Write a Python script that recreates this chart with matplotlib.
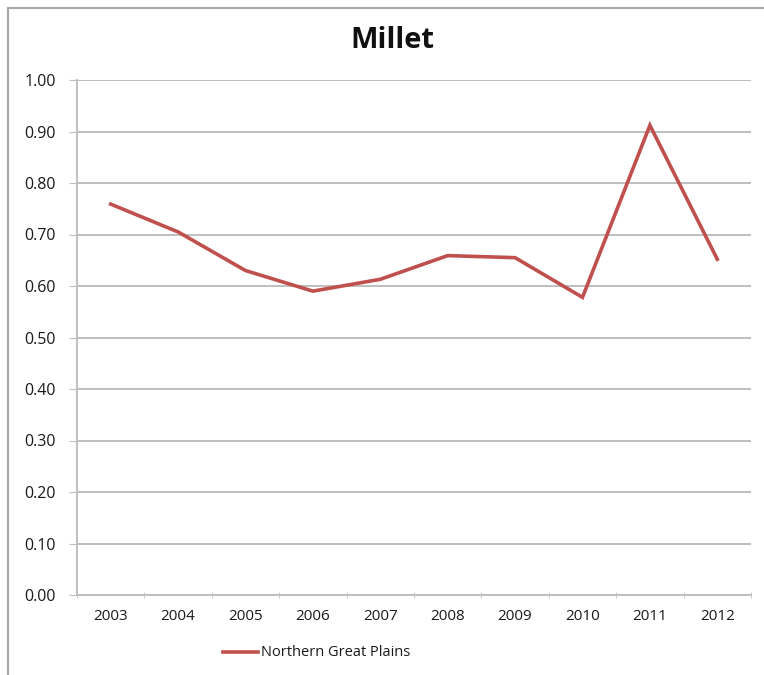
import matplotlib
matplotlib.use("Agg")
import matplotlib.pyplot as plt
from matplotlib.patches import Rectangle
from matplotlib.lines import Line2D

years = ["2003", "2004", "2005", "2006", "2007", "2008", "2009", "2010", "2011", "2012"]
northern_great_plains = [0.759, 0.705, 0.630, 0.590, 0.613, 0.659, 0.655, 0.578, 0.912, 0.652]
y_ticks = [0.0, 0.1, 0.2, 0.3, 0.4, 0.5, 0.6, 0.7, 0.8, 0.9, 1.0]

line_color = "#C0504D"
grid_color = "#BFBFBF"
text_color = "#1A1A1A"

plt.rcParams["font.family"] = ["Open Sans", "DejaVu Sans"]

fig = plt.figure(figsize=(7.64, 6.75), dpi=100)
W, H = 764, 675

# outer chart frame
fig.patches.append(Rectangle((8 / W, -0.1), 1.2, 1 - 8 / H + 0.1,
                             transform=fig.transFigure, fill=False,
                             edgecolor="#A6A6A6", linewidth=1.5))

ax = fig.add_axes([77 / W, 1 - 595 / H, (751 - 77) / W, (595 - 80) / H])
x = list(range(len(years)))
ax.plot(x, northern_great_plains, color=line_color, linewidth=2.6,
        solid_joinstyle="miter")

ax.set_xlim(-0.5, len(years) - 0.5)
ax.set_ylim(0, 1.0)
ax.set_yticks(y_ticks)
ax.set_yticklabels([f"{v:.2f}" for v in y_ticks], fontsize=11.5, color=text_color)
ax.set_xticks(x)
ax.set_xticklabels(years, fontsize=11, color=text_color)
ax.set_xticks([i - 0.5 for i in range(len(years) + 1)], minor=True)
ax.tick_params(axis="x", which="major", length=0, pad=10)
ax.tick_params(axis="x", which="minor", length=5, color=grid_color, direction="inout")
ax.tick_params(axis="y", length=6, color=grid_color, pad=9)

ax.grid(axis="y", color=grid_color, linewidth=1.4)
ax.set_axisbelow(True)
for s in ("top", "right"):
    ax.spines[s].set_visible(False)
for s in ("left", "bottom"):
    ax.spines[s].set_color(grid_color)
    ax.spines[s].set_linewidth(1.4)

fig.text(392 / W, 1 - 41 / H, "Millet", ha="center", va="center",
         fontsize=21, fontweight="bold", color="#111111")

# legend
fig.add_artist(Line2D([223 / W, 258 / W], [1 - 652 / H, 1 - 652 / H],
                      transform=fig.transFigure, color=line_color, linewidth=2.6))
fig.text(261 / W, 1 - 652 / H, "Northern Great Plains", ha="left", va="center",
         fontsize=10.5, color=text_color)

fig.savefig("out.png", dpi=100, facecolor="white")
